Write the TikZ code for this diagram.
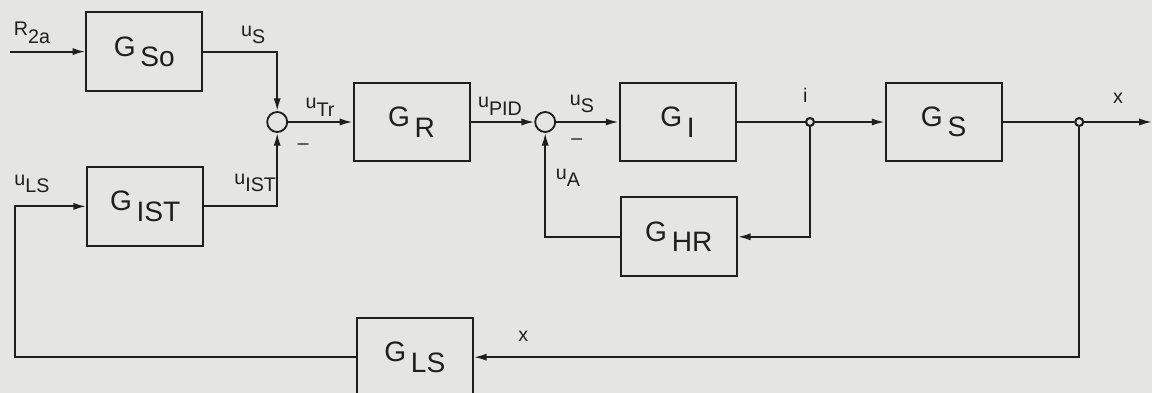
\documentclass[tikz,border=0pt]{standalone}
\usepackage{fontspec}
\setmainfont{Liberation Sans}
\usetikzlibrary{arrows.meta}
\definecolor{paper}{HTML}{E5E5E3}
\definecolor{ink}{HTML}{1E1E1E}
\newcommand{\lowsub}[1]{\raisebox{-0.7ex}{#1}}
\tikzset{
  block/.style={draw=ink, line width=1.5pt, minimum width=2.9cm, minimum height=1.97cm,
                inner sep=0pt, font=\fontsize{20}{22}\selectfont, text=ink},
  sumpt/.style={circle, draw=ink, line width=1.3pt, minimum size=0.5cm, inner sep=0pt},
  branch/.style={circle, draw=ink, fill=paper, line width=1.5pt, minimum size=0.2cm, inner sep=0pt},
  sig/.style={font=\fontsize{14}{16}\selectfont, text=ink, inner sep=1pt},
  flow/.style={draw=ink, line width=1.4pt, -{Latex[length=3.2mm,width=1.8mm]}},
  wire/.style={draw=ink, line width=1.4pt},
}
\begin{document}
\begin{tikzpicture}
    \fill[paper] (0,0) rectangle (28.8,-9.825);
    \useasboundingbox (0,0) rectangle (28.8,-9.825);
    % blocks
    \node[block] (gso) at (3.61,-1.29) {G\,\lowsub{So}};
    \node[block] (gist) at (3.63,-5.16) {G\,\lowsub{IST}};
    \node[block] (gr) at (10.29,-3.05) {G\,\lowsub{R}};
    \node[block] (gi) at (16.94,-3.05) {G\,\lowsub{I}};
    \node[block] (gs) at (23.59,-3.05) {G\,\lowsub{S}};
    \node[block] (ghr) at (16.97,-5.92) {G\,\lowsub{HR}};
    \node[block] (gls) at (10.37,-8.93) {G\,\lowsub{LS}};
    % junctions
    \node[sumpt] (sum1) at (6.93,-3.05) {};
    \node[sumpt] (sum2) at (13.63,-3.05) {};
    \node[branch] (inode) at (20.25,-3.05) {};
    \node[branch] (xnode) at (26.98,-3.05) {};
    \coordinate (r2in) at (0.25,-1.29);
    \coordinate (xout) at (28.8,-3.05);
    \coordinate (lscorner) at (0.38,-8.93);
    % signal path
    \draw[flow] (r2in) -- (gso.west);
    \draw[flow] (gso.east) -| (sum1.north);
    \draw[flow] (gist.east) -| (sum1.south);
    \draw[flow] (sum1) -- (gr);
    \draw[flow] (gr) -- (sum2);
    \draw[flow] (sum2) -- (gi);
    \draw[wire] (gi) -- (inode);
    \draw[flow] (inode) -- (gs);
    \draw[wire] (gs) -- (xnode);
    \draw[flow] (xnode) -- (xout);
    % feedback
    \draw[flow] (inode) |- (ghr.east);
    \draw[flow] (ghr.west) -| (sum2.south);
    \draw[flow] (xnode) |- (gls.east);
    \draw[flow] (gls.west) -- (lscorner) |- (gist.west);
    % labels
    \node[sig] (lr2a) at (0.8,-0.82) {R\lowsub{2a}};
    \node[sig] (lls) at (0.8,-4.6) {u\lowsub{LS}};
    \node[sig] (lus1) at (6.33,-0.88) {u\lowsub{S}};
    \node[sig] (list) at (6.38,-4.58) {u\lowsub{IST}};
    \node[sig] (lmin1) at (7.58,-3.67) {--};
    \node[sig] (ltr) at (8.0,-2.68) {u\lowsub{Tr}};
    \node[sig] (lpid) at (12.5,-2.66) {u\lowsub{PID}};
    \node[sig] (lmin2) at (14.42,-3.55) {--};
    \node[sig] (lus2) at (14.55,-2.6) {u\lowsub{S}};
    \node[sig] (lua) at (14.2,-4.45) {u\lowsub{A}};
    \node[sig] (li) at (20.13,-2.38) {i};
    \node[sig] (lx1) at (27.95,-2.45) {x};
    \node[sig] (lx2) at (13.08,-8.42) {x};
\end{tikzpicture}
\end{document}
